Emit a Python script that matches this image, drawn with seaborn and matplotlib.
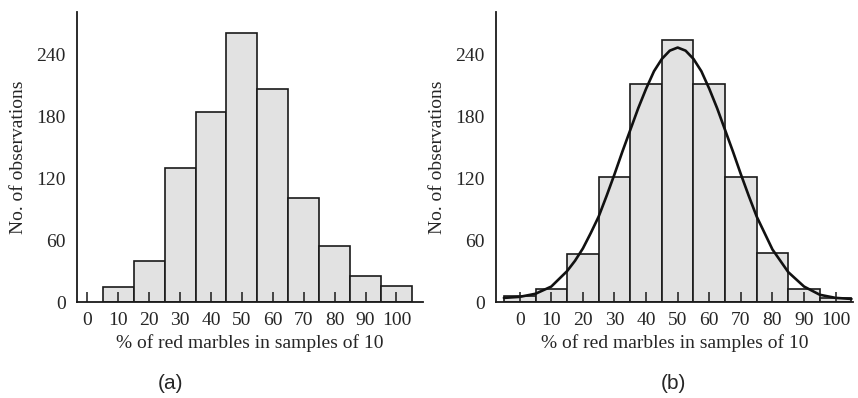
import numpy as np
import pandas as pd
import seaborn as sns
import matplotlib.pyplot as plt

# panel (a): observed counts
a_centers = [10, 20, 30, 40, 50, 60, 70, 80, 90, 100]
a_counts = [15, 40, 130, 184, 261, 207, 101, 54, 25, 16]

# panel (b): expected counts with fitted curve
b_centers = [0, 10, 20, 30, 40, 50, 60, 70, 80, 90, 100]
b_counts = [6, 13, 47, 121, 212, 254, 212, 121, 48, 13, 4]

curve_x = [-5, 0, 5, 10, 15, 17.5, 20, 22.5, 25, 27.5, 30, 32.5, 35, 37.5, 40,
           42.5, 45, 47.5, 50, 52.5, 55, 57.5, 60, 62.5, 65, 67.5, 70, 72.5,
           75, 77.5, 80, 82.5, 85, 90, 95, 100, 105]
curve_y = [4, 5, 8, 15, 30, 40, 52, 67, 83, 103, 124, 146, 167, 188, 207,
           224, 236, 244, 247, 244, 236, 224, 207, 188, 167, 146, 124, 103,
           83, 67, 51, 40, 29, 15, 7, 4, 3]

x_ticks = [0, 10, 20, 30, 40, 50, 60, 70, 80, 90, 100]
y_ticks = [0, 60, 120, 180, 240]

sns.set_style("ticks")
plt.rcParams["font.family"] = ["Liberation Serif", "DejaVu Serif"]

fig = plt.figure(figsize=(8.58, 3.98), dpi=100)
ax_a = fig.add_axes([0.0897, 0.2412, 0.4033, 0.7286])
ax_b = fig.add_axes([0.5781, 0.2412, 0.4161, 0.7286])

bar_kw = dict(stat="count", binwidth=10, color="#e2e2e2", edgecolor="#1a1a1a",
              linewidth=1.2, alpha=1)

df_a = pd.DataFrame({"pct": a_centers, "n": a_counts})
sns.histplot(data=df_a, x="pct", weights="n", binrange=(5, 105), ax=ax_a, **bar_kw)

df_b = pd.DataFrame({"pct": b_centers, "n": b_counts})
sns.histplot(data=df_b, x="pct", weights="n", binrange=(-5, 105), ax=ax_b, **bar_kw)
sns.lineplot(x=curve_x, y=curve_y, color="#111111", linewidth=1.9, ax=ax_b)

for ax, xlim in [(ax_a, (-3.4, 108.6)), (ax_b, (-7.5, 105.5))]:
    ax.set_axisbelow(False)
    ax.set_xlim(*xlim)
    ax.set_ylim(0, 281.5)
    ax.set_xticks(x_ticks)
    ax.set_yticks(y_ticks)
    ax.tick_params(axis="x", direction="in", length=7, width=1.1, pad=7,
                   labelsize=14, color="#1a1a1a")
    ax.tick_params(axis="y", length=0, pad=8, labelsize=14)
    for s in ["top", "right"]:
        ax.spines[s].set_visible(False)
    for s in ["left", "bottom"]:
        ax.spines[s].set_linewidth(1.3)
        ax.spines[s].set_color("#1a1a1a")
    ax.set_xlabel("% of red marbles in samples of 10", fontsize=14, labelpad=4)
    ax.set_ylabel("No. of observations", fontsize=14, labelpad=7)
    ax.set_facecolor("white")

fig.text(0.199, 0.012, "(a)", fontsize=15, family=["Liberation Sans", "DejaVu Sans"],
         ha="center", va="bottom")
fig.text(0.7847, 0.012, "(b)", fontsize=15, family=["Liberation Sans", "DejaVu Sans"],
         ha="center", va="bottom")

fig.savefig("out.png", dpi=100)
plt.close()
